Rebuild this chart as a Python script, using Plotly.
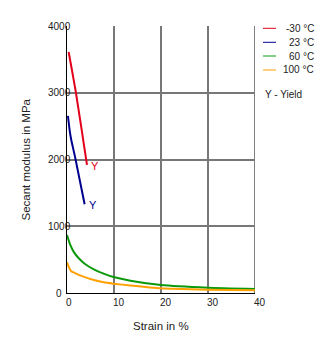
import plotly.graph_objects as go

# Secant modulus vs. strain at four test temperatures
temps = ["-30 °C", "23 °C", "60 °C", "100 °C"]
colors = ["#e2001a", "#00008f", "#0b990b", "#ffa000"]

strain_m30 = [0.35, 1.0, 1.9, 3.0, 4.25]
modulus_m30 = [3610, 3360, 3000, 2500, 1920]

strain_23 = [0.2, 0.55, 0.9, 1.77, 3.75]
modulus_23 = [2655, 2445, 2295, 2020, 1330]

strain_60 = [0, 0.7, 1.4, 2.5, 3.9, 5.7, 7.8, 9.9, 13.5, 20, 30, 40]
modulus_60 = [870, 720, 620, 520, 430, 355, 290, 240, 185, 120, 80, 60]

strain_100 = [0, 0.35, 0.85, 1.8, 3.5, 5.7, 7.8, 9.9, 13.5, 20, 30, 40]
modulus_100 = [460, 395, 330, 295, 245, 195, 160, 140, 112, 70, 50, 40]

x_ticks = [0, 10, 20, 30, 40]
y_ticks = [0, 1000, 2000, 3000, 4000]
dark_grid_x = [10, 40]
dark_grid_y = [1000]

series = [
    (strain_m30, modulus_m30, True),
    (strain_23, modulus_23, True),
    (strain_60, modulus_60, False),
    (strain_100, modulus_100, False),
]

W, H = 329, 338
ML, MR, MT, MB = 67, 74, 26, 45
PW, PH = W - ML - MR, H - MT - MB

def px_x(px):
    return (px - ML) / PW

def px_y(py):
    return (H - MB - py) / PH

font_family = "Arial, Liberation Sans, sans-serif"
text_color = "#222222"

fig = go.Figure()
annotations = []
shapes = []

for (xs, ys, yield_mark), color in zip(series, colors):
    fig.add_trace(go.Scatter(
        x=xs, y=ys, mode="lines",
        line=dict(color=color, width=2, shape="spline", smoothing=0.5),
        showlegend=False, hoverinfo="skip",
    ))
    if yield_mark:
        annotations.append(dict(
            x=xs[-1], y=ys[-1], xref="x", yref="y", text="Y",
            showarrow=False, xanchor="left", yanchor="middle",
            xshift=2, yshift=-1,
            font=dict(family=font_family, size=11, color=color),
        ))

# darker grid lines
for xv in dark_grid_x:
    shapes.append(dict(type="line", xref="x", yref="paper", x0=xv, x1=xv,
                       y0=0, y1=1, line=dict(color="#000000", width=1),
                       layer="below"))
for yv in dark_grid_y:
    shapes.append(dict(type="line", xref="paper", yref="y", x0=0, x1=1,
                       y0=yv, y1=yv, line=dict(color="#000000", width=1),
                       layer="below"))

# tick labels
for yv in y_ticks:
    annotations.append(dict(
        x=0, y=yv, xref="paper", yref="y", text=str(yv), showarrow=False,
        xanchor="center", yanchor="middle", xshift=-8,
        font=dict(family=font_family, size=10, color=text_color),
    ))
for xv in x_ticks:
    annotations.append(dict(
        x=xv, y=0, xref="x", yref="paper", text=str(xv), showarrow=False,
        xanchor="left", yanchor="top", xshift=-3, yshift=-2,
        font=dict(family=font_family, size=10, color=text_color),
    ))

# axis titles
annotations.append(dict(
    x=0, y=0.5, xref="paper", yref="paper", text="Secant modulus in MPa",
    showarrow=False, textangle=-90, xanchor="center", yanchor="middle",
    xshift=-42, font=dict(family=font_family, size=11.5, color=text_color),
))
annotations.append(dict(
    x=0.5, y=0, xref="paper", yref="paper", text="Strain in %",
    showarrow=False, xanchor="center", yanchor="middle", yshift=-33,
    font=dict(family=font_family, size=11.5, color=text_color),
))

# legend
row_y = [28.3, 42.3, 56.0, 70.0]
for name, color, py in zip(temps, colors, row_y):
    shapes.append(dict(type="line", xref="paper", yref="paper",
                       x0=px_x(263), x1=px_x(276), y0=px_y(py), y1=px_y(py),
                       line=dict(color=color, width=1)))
    annotations.append(dict(
        x=px_x(316), y=px_y(py), xref="paper", yref="paper", text=name,
        showarrow=False, xanchor="right", yanchor="middle",
        font=dict(family=font_family, size=10, color=text_color),
    ))
annotations.append(dict(
    x=px_x(263), y=px_y(95), xref="paper", yref="paper", text="Y - Yield",
    showarrow=False, xanchor="left", yanchor="middle",
    font=dict(family=font_family, size=10, color=text_color),
))

fig.update_layout(
    width=W, height=H,
    margin=dict(l=ML, r=MR, t=MT, b=MB),
    paper_bgcolor="white", plot_bgcolor="white",
    xaxis=dict(range=[0, 40], tickvals=x_ticks, showticklabels=False,
               showgrid=True, gridcolor="#777777", gridwidth=1.5,
               showline=True, linecolor="#000000", linewidth=1,
               zeroline=False, ticks=""),
    yaxis=dict(range=[0, 4000], tickvals=y_ticks, showticklabels=False,
               showgrid=True, gridcolor="#777777", gridwidth=1.5,
               showline=True, linecolor="#000000", linewidth=1,
               zeroline=False, ticks=""),
    annotations=annotations,
    shapes=shapes,
)

fig.write_html("out.html")
